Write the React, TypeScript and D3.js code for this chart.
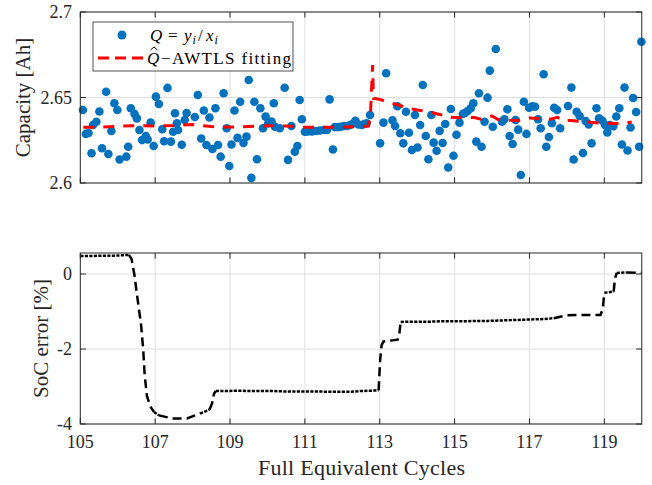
import React from 'react';
import * as d3 from 'd3';

// ---- Data ----
const qCycles = [
  105.07, 105.15, 105.22, 105.30, 105.34, 105.43, 105.51, 105.58, 105.69, 105.75,
  105.83, 105.91, 105.99, 106.05, 106.23, 106.28, 106.35, 106.45, 106.51, 106.58,
  106.65, 106.75, 106.80, 106.88, 106.96, 107.02, 107.10, 107.19, 107.24, 107.33,
  107.42, 107.48, 107.53, 107.58, 107.61, 107.71, 107.79, 107.84, 108.06, 108.14,
  108.23, 108.30, 108.37, 108.45, 108.53, 108.61, 108.68, 108.75, 108.83, 108.91,
  108.98, 109.04, 109.12, 109.20, 109.27, 109.36, 109.44, 109.50, 109.57, 109.65,
  109.72, 109.81, 109.88, 109.95, 110.02, 110.11, 110.17, 110.20, 110.33, 110.46,
  110.55, 110.64, 110.73, 110.80, 110.86, 110.92, 111.00, 111.08, 111.19, 111.30,
  111.40, 111.51, 111.59, 111.66, 111.75, 111.80, 111.88, 111.96, 112.05, 112.13,
  112.21, 112.29, 112.35, 112.43, 112.52, 112.59, 112.65, 112.74, 113.01, 113.10,
  113.17, 113.34, 113.41, 113.47, 113.55, 113.63, 113.70, 113.78, 113.86, 113.94,
  114.01, 114.08, 114.15, 114.23, 114.30, 114.38, 114.44, 114.52, 114.60, 114.68,
  114.75, 114.83, 114.90, 114.97, 115.05, 115.13, 115.22, 115.28, 115.35, 115.43,
  115.50, 115.58, 115.65, 115.72, 115.80, 115.88, 115.94, 116.02, 116.10, 116.27,
  116.33, 116.41, 116.47, 116.55, 116.63, 116.70, 116.77, 116.85, 116.92, 116.99,
  117.08, 117.15, 117.23, 117.30, 117.38, 117.45, 117.52, 117.60, 117.66, 117.74,
  117.82, 118.03, 118.12, 118.18, 118.26, 118.34, 118.43, 118.50, 118.58, 118.66,
  118.79, 118.86, 118.95, 119.02, 119.08, 119.15, 119.24, 119.32, 119.40, 119.47,
  119.54, 119.62, 119.70, 119.77, 119.85, 119.93, 119.99,
];
const qValues = [
  2.6427, 2.6287, 2.6292, 2.6174, 2.6339, 2.6358, 2.6418, 2.6203, 2.6534, 2.6170,
  2.6304, 2.6466, 2.6427, 2.6137, 2.6154, 2.6212, 2.6437, 2.6404, 2.6378, 2.6310,
  2.6251, 2.6275, 2.6254, 2.6353, 2.6216, 2.6505, 2.6462, 2.6314, 2.6244, 2.6556,
  2.6242, 2.6300, 2.6408, 2.6349, 2.6310, 2.6224, 2.6368, 2.6409, 2.6386, 2.6515,
  2.6260, 2.6424, 2.6222, 2.6383, 2.6199, 2.6437, 2.6222, 2.6154, 2.6525, 2.6320,
  2.6099, 2.6225, 2.6424, 2.6264, 2.6475, 2.6234, 2.6271, 2.6602, 2.6030, 2.6475,
  2.6139, 2.6437, 2.6320, 2.6388, 2.6348, 2.6360, 2.6466, 2.6329, 2.6320, 2.6557,
  2.6135, 2.6333, 2.6183, 2.6216, 2.6485, 2.6373, 2.6300, 2.6301, 2.6301, 2.6304,
  2.6307, 2.6310, 2.6310, 2.6489, 2.6196, 2.6327, 2.6327, 2.6329, 2.6333, 2.6333,
  2.6339, 2.6348, 2.6364, 2.6342, 2.6339, 2.6345, 2.6349, 2.6398, 2.6232, 2.6353,
  2.6642, 2.6367, 2.6333, 2.6449, 2.6291, 2.6232, 2.6417, 2.6294, 2.6193, 2.6398,
  2.6208, 2.6339, 2.6573, 2.6275, 2.6139, 2.6398, 2.6236, 2.6189, 2.6305, 2.6234,
  2.6345, 2.6091, 2.6433, 2.6159, 2.6282, 2.6353, 2.6404, 2.6409, 2.6421, 2.6437,
  2.6466, 2.6242, 2.6525, 2.6212, 2.6358, 2.6499, 2.6657, 2.6329, 2.6784, 2.6358,
  2.6373, 2.6431, 2.6275, 2.6228, 2.6368, 2.6312, 2.6047, 2.6475, 2.6287, 2.6440,
  2.6449, 2.6446, 2.6373, 2.6320, 2.6636, 2.6212, 2.6269, 2.6349, 2.6440, 2.6427,
  2.6320, 2.6450, 2.6558, 2.6137, 2.6417, 2.6392, 2.6175, 2.6363, 2.6343, 2.6232,
  2.6437, 2.6378, 2.6364, 2.6339, 2.6296, 2.6339, 2.6332, 2.6389, 2.6437, 2.6225,
  2.6558, 2.6190, 2.6325, 2.6497, 2.6415, 2.6212, 2.6826,
];

const fitCycles = [
  105.08, 105.5, 106.0, 106.5, 107.0, 107.5, 108.0, 108.5, 109.0, 109.5,
  110.0, 110.5, 111.0, 111.5, 112.0, 112.5, 112.7, 112.75, 112.78, 112.81,
  112.83, 113.0, 113.2, 113.5, 113.8, 114.0, 114.3, 114.6, 114.9, 115.2,
  115.5, 115.7, 115.85, 116.0, 116.15, 116.4, 116.7, 117.0, 117.3, 117.55,
  117.75, 117.9, 118.1, 118.4, 118.7, 119.0, 119.3, 119.55, 119.73,
];
const fitValues = [
  2.6326, 2.6327, 2.6332, 2.6335, 2.6334, 2.6336, 2.6342, 2.6330, 2.6327, 2.6330,
  2.6335, 2.6333, 2.6326, 2.6326, 2.6327, 2.6330, 2.6333, 2.6392, 2.6544, 2.6690,
  2.6495, 2.6489, 2.6475, 2.6456, 2.6436, 2.6427, 2.6417, 2.6401, 2.6384, 2.6381,
  2.6384, 2.6373, 2.6386, 2.6392, 2.6373, 2.6368, 2.6366, 2.6380, 2.6377, 2.6373,
  2.6384, 2.6364, 2.6366, 2.6360, 2.6354, 2.6349, 2.6348, 2.6349, 2.6357,
];

const socCycles = [
  105.00, 105.30, 105.60, 105.90, 106.15, 106.30, 106.37, 106.45, 106.53, 106.62,
  106.68, 106.72, 106.78, 106.87, 106.97, 107.10, 107.45, 107.85, 108.20, 108.45,
  108.52, 108.57, 108.62, 108.90, 109.20, 109.50, 109.80, 110.10, 110.40, 110.70,
  111.00, 111.30, 111.60, 111.90, 112.20, 112.50, 112.80, 112.97, 113.01, 113.05,
  113.10, 113.48, 113.52, 113.56, 113.80, 114.10, 114.40, 114.70, 115.00, 115.30,
  115.60, 115.90, 116.20, 116.50, 116.80, 117.10, 117.40, 117.65, 118.00, 118.45,
  118.90, 118.96, 119.00, 119.25, 119.28, 119.33, 119.60, 120.00,
];
const socValues = [
  0.48, 0.48, 0.49, 0.49, 0.50, 0.51, 0.40, -0.05, -0.67, -1.32,
  -2.00, -2.70, -3.25, -3.53, -3.68, -3.77, -3.85, -3.85, -3.72, -3.62,
  -3.45, -3.20, -3.12, -3.12, -3.11, -3.12, -3.12, -3.12, -3.13, -3.13,
  -3.13, -3.13, -3.14, -3.14, -3.14, -3.12, -3.11, -3.10, -2.30, -1.90,
  -1.80, -1.75, -1.62, -1.28, -1.27, -1.27, -1.27, -1.26, -1.26, -1.26,
  -1.25, -1.25, -1.24, -1.23, -1.22, -1.21, -1.20, -1.18, -1.10, -1.09,
  -1.09, -0.92, -0.50, -0.47, -0.15, 0.03, 0.04, 0.03,
];

const xTicks = [105, 107, 109, 111, 113, 115, 117, 119];
const capTicks = [2.6, 2.65, 2.7];
const capTickLabels = ['2.6', '2.65', '2.7'];
const socTicks = [-4, -2, 0];
const socTickLabels = ['-4', '-2', '0'];

const FONT = "'Liberation Serif', 'DejaVu Serif', serif";
const AXIS = '#262626';
const GRID = '#dfdfdf';
const BLUE = '#0072BD';

export default function App() {
  const left = 80.3;
  const right = 641.75;
  const top1 = 12, bot1 = 183;
  const top2 = 253, bot2 = 424;
  const x = d3.scaleLinear().domain([105, 120]).range([left, right]);
  const yTop = d3.scaleLinear().domain([2.6, 2.7]).range([bot1, top1]);
  const yBot = d3.scaleLinear().domain([-4, 0.56]).range([bot2, top2]);
  const tl = 5.6;

  const fitLine = d3.line<number>()
    .x((_, i) => x(fitCycles[i]))
    .y((d) => yTop(d))(fitValues) as string;

  // SoC runs: split into fine (dense, flat) and coarse (steep/sparse) dash styles
  const pts = socCycles.map((c, i) => [x(c), yBot(socValues[i])] as [number, number]);
  const runs: { coarse: boolean; p: [number, number][] }[] = [];
  for (let i = 0; i < pts.length - 1; i++) {
    const dx = pts[i + 1][0] - pts[i][0];
    const dy = pts[i + 1][1] - pts[i][1];
    const len = Math.hypot(dx, dy);
    const coarse = Math.abs(dy) > Math.abs(dx) || len > 12;
    const last = runs[runs.length - 1];
    if (last && last.coarse === coarse) last.p.push(pts[i + 1]);
    else runs.push({ coarse, p: [pts[i], pts[i + 1]] });
  }
  const lineGen = d3.line<[number, number]>();

  const frame = (t: number, b: number) => (
    <rect x={left} y={t} width={right - left} height={b - t} fill="none" stroke={AXIS} strokeWidth={1} />
  );
  const ts = { fontFamily: FONT };

  return (
    <svg width={652} height={485} style={{ position: 'absolute', left: 0, top: 0, display: 'block', background: '#fff', fontFamily: FONT }}>
      <rect x={0} y={0} width={652} height={485} fill="#fff" />
      {/* ---------- Top panel ---------- */}
      <g>
        {xTicks.slice(1).map((t) => (
          <line key={'gx1' + t} x1={x(t)} x2={x(t)} y1={top1} y2={bot1} stroke={GRID} strokeWidth={1} />
        ))}
        {capTicks.map((t) => (
          <line key={'gy1' + t} x1={left} x2={right} y1={yTop(t)} y2={yTop(t)} stroke={GRID} strokeWidth={1} />
        ))}
        {qCycles.map((c, i) => (
          <circle key={'q' + i} cx={x(c)} cy={yTop(qValues[i])} r={4.3} fill={BLUE} />
        ))}
        <path d={fitLine} fill="none" stroke="#ff0000" strokeWidth={3} strokeDasharray="11,9" />
        {frame(top1, bot1)}
        {xTicks.map((t) => (
          <g key={'tx1' + t}>
            <line x1={x(t)} x2={x(t)} y1={bot1} y2={bot1 - tl} stroke={AXIS} />
            <line x1={x(t)} x2={x(t)} y1={top1} y2={top1 + tl} stroke={AXIS} />
          </g>
        ))}
        {capTicks.map((t, i) => (
          <g key={'ty1' + t}>
            <line x1={left} x2={left + tl} y1={yTop(t)} y2={yTop(t)} stroke={AXIS} />
            <line x1={right} x2={right - tl} y1={yTop(t)} y2={yTop(t)} stroke={AXIS} />
            <text style={ts} x={72} y={yTop(t) + 6} fontSize={18} textAnchor="end" fill={AXIS}>{capTickLabels[i]}</text>
          </g>
        ))}
        <text style={ts} transform={`translate(30,${(top1 + bot1) / 2}) rotate(-90)`} fontSize={21} textAnchor="middle" fill={AXIS}>
          Capacity [Ah]
        </text>
        {/* legend */}
        <rect x={93} y={22} width={200} height={49} fill="#fff" stroke={AXIS} strokeWidth={0.8} />
        <circle cx={122} cy={35} r={4.5} fill={BLUE} />
        <text style={ts} y={41} fontSize={17} fill="#000">
          <tspan x={150} fontStyle="italic">Q</tspan>
          <tspan x={168}>=</tspan>
          <tspan x={184} fontStyle="italic">y</tspan>
          <tspan x={192.5} fontStyle="italic" fontSize={12} dy={3}>i</tspan>
          <tspan x={198} dy={-3}>/</tspan>
          <tspan x={206} fontStyle="italic">x</tspan>
          <tspan x={214.5} fontStyle="italic" fontSize={12} dy={3}>i</tspan>
        </text>
        <line x1={98} x2={145} y1={58} y2={58} stroke="#ff0000" strokeWidth={3} strokeDasharray="11,6" />
        <text style={ts} x={147} y={64} fontSize={17} fill="#000" fontStyle="italic">Q</text>
        <text style={ts} x={161} y={64} fontSize={17} fill="#000" textLength={130} lengthAdjust="spacing">−AWTLS fitting</text>
        <path d="M150.5,50 L154,47 L157.5,50" fill="none" stroke="#000" strokeWidth={1} />
      </g>

      {/* ---------- Bottom panel ---------- */}
      <g>
        {xTicks.slice(1).map((t) => (
          <line key={'gx2' + t} x1={x(t)} x2={x(t)} y1={top2} y2={bot2} stroke={GRID} strokeWidth={1} />
        ))}
        {socTicks.map((t) => (
          <line key={'gy2' + t} x1={left} x2={right} y1={yBot(t)} y2={yBot(t)} stroke={GRID} strokeWidth={1} />
        ))}
        {runs.map((r, i) => (
          <path key={'soc' + i} d={lineGen(r.p) as string} fill="none" stroke="#000" strokeWidth={2.5}
            strokeDasharray={r.coarse ? '9,5' : '3.2,1.3'} />
        ))}
        {frame(top2, bot2)}
        {xTicks.map((t) => (
          <g key={'tx2' + t}>
            <line x1={x(t)} x2={x(t)} y1={bot2} y2={bot2 - tl} stroke={AXIS} />
            <line x1={x(t)} x2={x(t)} y1={top2} y2={top2 + tl} stroke={AXIS} />
            <text style={ts} x={x(t)} y={448} fontSize={18} textAnchor="middle" fill={AXIS}>{t}</text>
          </g>
        ))}
        {socTicks.map((t, i) => (
          <g key={'ty2' + t}>
            <line x1={left} x2={left + tl} y1={yBot(t)} y2={yBot(t)} stroke={AXIS} />
            <line x1={right} x2={right - tl} y1={yBot(t)} y2={yBot(t)} stroke={AXIS} />
            <text style={ts} x={72} y={yBot(t) + 6} fontSize={18} textAnchor="end" fill={AXIS}>{socTickLabels[i]}</text>
          </g>
        ))}
        <text style={ts} transform={`translate(48,${(top2 + bot2) / 2}) rotate(-90)`} fontSize={21} textAnchor="middle" fill={AXIS}>
          SoC error [%]
        </text>
        <text style={ts} x={258} y={475} fontSize={22} fill={AXIS} textLength={207} lengthAdjust="spacing">Full Equivalent Cycles</text>
      </g>
    </svg>
  );
}
